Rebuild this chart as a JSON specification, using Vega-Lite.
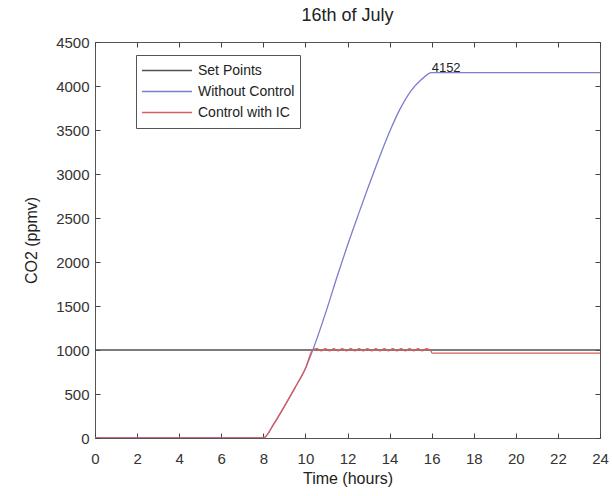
{
  "$schema": "https://vega.github.io/schema/vega-lite/v6.json",
  "autosize": {"type": "none"},
  "padding": {"left": 95, "top": 42, "right": 12, "bottom": 58},
  "width": 505,
  "height": 396,
  "background": "white",
  "title": {"text": "16th of July", "font": "Liberation Sans", "fontSize": 18, "fontWeight": "normal", "color": "#222", "offset": 10},
  "config": {
    "view": {"stroke": "#555", "strokeWidth": 1},
    "axis": {"labelFont": "Liberation Sans", "titleFont": "Liberation Sans", "labelFontSize": 15, "titleFontSize": 16, "titleFontWeight": "normal", "labelColor": "#333", "titleColor": "#222", "domain": false, "tickColor": "#444", "tickWidth": 1, "grid": false, "ticks": true, "tickSize": 5, "offset": -5}
  },
  "resolve": {"scale": {"x": "independent", "y": "independent"}, "axis": {"x": "independent", "y": "independent"}},
  "datasets": {
    "main": [
      {"series": "Set Points", "t": 0, "co2": 1000},
      {"series": "Set Points", "t": 24, "co2": 1000},
      {"series": "Without Control", "t": 0, "co2": 0},
      {"series": "Without Control", "t": 8, "co2": 0},
      {"series": "Without Control", "t": 8.5, "co2": 160},
      {"series": "Without Control", "t": 9, "co2": 360},
      {"series": "Without Control", "t": 9.5, "co2": 570},
      {"series": "Without Control", "t": 10, "co2": 790},
      {"series": "Without Control", "t": 10.35, "co2": 1000},
      {"series": "Without Control", "t": 11, "co2": 1450},
      {"series": "Without Control", "t": 11.5, "co2": 1830},
      {"series": "Without Control", "t": 12, "co2": 2190},
      {"series": "Without Control", "t": 12.5, "co2": 2530},
      {"series": "Without Control", "t": 13, "co2": 2860},
      {"series": "Without Control", "t": 13.5, "co2": 3180},
      {"series": "Without Control", "t": 14, "co2": 3480},
      {"series": "Without Control", "t": 14.5, "co2": 3740},
      {"series": "Without Control", "t": 15, "co2": 3940},
      {"series": "Without Control", "t": 15.5, "co2": 4070},
      {"series": "Without Control", "t": 16, "co2": 4152},
      {"series": "Without Control", "t": 24, "co2": 4152},
      {"series": "Control with IC", "t": 0, "co2": 0},
      {"series": "Control with IC", "t": 8, "co2": 0},
      {"series": "Control with IC", "t": 8.5, "co2": 160},
      {"series": "Control with IC", "t": 9, "co2": 360},
      {"series": "Control with IC", "t": 9.5, "co2": 570},
      {"series": "Control with IC", "t": 10, "co2": 790},
      {"series": "Control with IC", "t": 10.35, "co2": 1000},
      {"series": "Control with IC", "t": 10.55, "co2": 1015},
      {"series": "Control with IC", "t": 10.75, "co2": 990},
      {"series": "Control with IC", "t": 10.95, "co2": 1015},
      {"series": "Control with IC", "t": 11.15, "co2": 990},
      {"series": "Control with IC", "t": 11.35, "co2": 1015},
      {"series": "Control with IC", "t": 11.55, "co2": 990},
      {"series": "Control with IC", "t": 11.75, "co2": 1015},
      {"series": "Control with IC", "t": 11.95, "co2": 990},
      {"series": "Control with IC", "t": 12.15, "co2": 1015},
      {"series": "Control with IC", "t": 12.35, "co2": 990},
      {"series": "Control with IC", "t": 12.55, "co2": 1015},
      {"series": "Control with IC", "t": 12.75, "co2": 990},
      {"series": "Control with IC", "t": 12.95, "co2": 1015},
      {"series": "Control with IC", "t": 13.15, "co2": 990},
      {"series": "Control with IC", "t": 13.35, "co2": 1015},
      {"series": "Control with IC", "t": 13.55, "co2": 990},
      {"series": "Control with IC", "t": 13.75, "co2": 1015},
      {"series": "Control with IC", "t": 13.95, "co2": 990},
      {"series": "Control with IC", "t": 14.15, "co2": 1015},
      {"series": "Control with IC", "t": 14.35, "co2": 990},
      {"series": "Control with IC", "t": 14.55, "co2": 1015},
      {"series": "Control with IC", "t": 14.75, "co2": 990},
      {"series": "Control with IC", "t": 14.95, "co2": 1015},
      {"series": "Control with IC", "t": 15.15, "co2": 990},
      {"series": "Control with IC", "t": 15.35, "co2": 1015},
      {"series": "Control with IC", "t": 15.55, "co2": 990},
      {"series": "Control with IC", "t": 15.75, "co2": 1015},
      {"series": "Control with IC", "t": 15.95, "co2": 995},
      {"series": "Control with IC", "t": 16.02, "co2": 965},
      {"series": "Control with IC", "t": 24, "co2": 965}
    ],
    "label": [
      {"t": 16, "co2": 4152, "text": "4152"}
    ]
  },
  "layer": [
    {
      "data": {"name": "main"},
      "mark": {"type": "line", "strokeWidth": 1.3, "clip": true, "interpolate": "monotone"},
      "encoding": {
        "x": {"field": "t", "type": "quantitative", "scale": {"domain": [0, 24], "nice": false, "zero": false},
              "axis": {"title": "Time (hours)", "values": [0,2,4,6,8,10,12,14,16,18,20,22,24], "format": "d", "labelPadding": 13, "titlePadding": 4, "labelFlush": false}},
        "y": {"field": "co2", "type": "quantitative", "scale": {"domain": [0, 4500], "nice": false},
              "axis": {"title": "CO2 (ppmv)", "values": [0,500,1000,1500,2000,2500,3000,3500,4000,4500], "format": "d", "labelPadding": 6, "titlePadding": 16, "labelFlush": false}},
        "color": {"field": "series", "type": "nominal",
                  "scale": {"domain": ["Set Points", "Without Control", "Control with IC"], "range": ["#505050", "#7c7cd0", "#dc5c5c"]},
                  "legend": {"title": null, "orient": "none", "legendX": 41, "legendY": 13, "direction": "vertical",
                             "symbolType": "stroke", "symbolSize": 2500, "symbolStrokeWidth": 1.3, "clipHeight": 21,
                             "labelFont": "Liberation Sans", "labelFontSize": 14, "labelColor": "#222",
                             "strokeColor": "#555", "padding": 5, "rowPadding": 0, "labelOffset": 5, "fillColor": "white"}},
        "order": {"field": "t", "type": "quantitative"}
      }
    },
    {
      "data": {"name": "label"},
      "mark": {"type": "text", "align": "left", "baseline": "alphabetic", "dx": 0, "dy": -1, "font": "Liberation Sans", "fontSize": 13, "color": "#222"},
      "encoding": {
        "x": {"field": "t", "type": "quantitative", "scale": {"domain": [0, 24], "nice": false, "zero": false},
              "axis": {"orient": "top", "title": null, "labels": false, "values": [0,2,4,6,8,10,12,14,16,18,20,22,24]}},
        "y": {"field": "co2", "type": "quantitative", "scale": {"domain": [0, 4500], "nice": false, "zero": false},
              "axis": {"orient": "right", "title": null, "labels": false, "values": [0,500,1000,1500,2000,2500,3000,3500,4000,4500]}},
        "text": {"field": "text", "type": "nominal"}
      }
    }
  ]
}
